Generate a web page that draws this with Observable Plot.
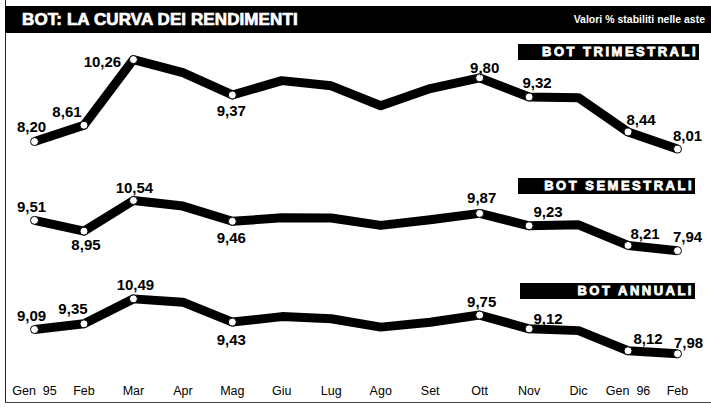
<!DOCTYPE html>
<html>
<head>
<meta charset="utf-8">
<script src="https://cdn.jsdelivr.net/npm/d3@7"></script>
<script src="https://cdn.jsdelivr.net/npm/@observablehq/plot@0.6"></script>
<style>
  html, body { margin: 0; padding: 0; background: #fff; }
  #wrap { position: relative; width: 711px; height: 409px; overflow: hidden; background: #fff;
          font-family: "Liberation Sans", Arial, Helvetica, sans-serif; }
  .panel { position: absolute; left: 0; }
  .panel svg { overflow: visible; }
  .panel svg text { white-space: pre; }
  #header { position: absolute; left: 5px; top: 6px; width: 706px; height: 27px; background: #000; }
  #title { position: absolute; left: 17px; top: 0; line-height: 27px; color: #fff; font-size: 17px;
           font-weight: bold; -webkit-text-stroke: 0.7px #fff; letter-spacing: 0.1px; }
  #subtitle { position: absolute; right: 6px; top: 0; line-height: 27px; color: #fff; font-size: 10.5px;
              font-weight: bold; }
  .tag { position: absolute; height: 16px; background: #000; color: #fff; text-align: right;
         font-size: 13px; font-weight: bold; line-height: 16px; letter-spacing: 2.5px;
         -webkit-text-stroke: 0.8px #fff; padding-right: 1px; box-sizing: border-box; }
  #lborder { position: absolute; left: 5px; top: 0; width: 1px; height: 403px; background: #222; }
  #bborder { position: absolute; left: 5px; top: 402px; width: 706px; height: 1px; background: #444; }
</style>
</head>
<body>
<div id="wrap">
  <div id="lborder"></div>
  <div id="bborder"></div>
  <div id="header"><span id="title">BOT: LA CURVA DEI RENDIMENTI</span><span id="subtitle">Valori % stabiliti nelle aste</span></div>
</div>
<script>
// ---- data ----
const months = ["Gen  95", "Feb", "Mar", "Apr", "Mag", "Giu", "Lug", "Ago", "Set", "Ott", "Nov", "Dic", "Gen  96", "Feb"];
const trimestrali = [8.20, 8.61, 10.26, 9.93, 9.37, 9.73, 9.60, 9.10, 9.53, 9.80, 9.32, 9.30, 8.44, 8.01];
const semestrali  = [9.51, 8.95, 10.54, 10.25, 9.46, 9.64, 9.63, 9.25, 9.54, 9.87, 9.23, 9.28, 8.21, 7.94];
const annuali     = [9.09, 9.35, 10.49, 10.34, 9.43, 9.68, 9.58, 9.20, 9.42, 9.75, 9.12, 9.04, 8.12, 7.98];
const labeled     = [true, true, true, false, true, false, false, false, false, true, true, false, true, true];
const seriesNames = ["BOT TRIMESTRALI", "BOT SEMESTRALI", "BOT ANNUALI"];

// ---- layout (label placement per labeled point: [dx, dy]) ----
const layout = [
  { values: trimestrali, top: 35, height: 125, yRange: [114, 14.5], yDomain: [8, 10.5],
    tag: { left: 518, top: 44, width: 181 },
    offsets: { 0: [-3, -14], 1: [-17, -13], 2: [-31, 3], 4: [-1, 16], 9: [5, -10], 10: [8, -14], 12: [13, -12], 13: [10, -13] } },
  { values: semestrali, top: 160, height: 100, yRange: [89.0, 31.1], yDomain: [8, 11],
    tag: { left: 518, top: 178, width: 177 },
    offsets: { 0: [-3, -13], 1: [2, 14], 2: [1, -12], 4: [-1, 17], 9: [2, -15], 10: [19, -14], 12: [17, -11], 13: [10, -13] } },
  { values: annuali, top: 260, height: 149, yRange: [92.9, 27.2], yDomain: [8, 11],
    tag: { left: 520, top: 283, width: 175 },
    offsets: { 0: [-3, -13], 1: [-11, -15], 2: [2, -14], 4: [-1, 18], 9: [2, -13], 10: [19, -10], 12: [20, -12], 13: [11, -11] } }
];

const fmt = v => d3.format(".2f")(v).replace(".", ",");
const wrap = document.getElementById("wrap");

layout.forEach((p, k) => {
  const data = p.values.map((v, i) => ({ i, v, lab: labeled[i] }));
  const isLast = k === layout.length - 1;
  const labelMarks = data.filter(d => d.lab).map(d => {
    const [dx, dy] = p.offsets[d.i] || [0, -13];
    return Plot.text([d], { x: "i", y: "v", text: d => fmt(d.v), dx, dy,
      fontSize: 15, fontWeight: "bold", fill: "#000" });
  });
  const marks = [
    Plot.line(data, { x: "i", y: "v", stroke: "#000", strokeWidth: 9, strokeLinejoin: "round", strokeLinecap: "butt" }),
    Plot.dot(data.filter(d => d.lab), { x: "i", y: "v", r: 4, fill: "#fff", stroke: "#000", strokeWidth: 1 }),
    ...labelMarks
  ];
  if (isLast) {
    marks.push(Plot.axisX({ ticks: d3.range(months.length), tickFormat: i => months[i], label: null,
      tickSize: 0, tickPadding: 7, fontSize: 12.5, fill: "#000" }));
  }
  const svg = Plot.plot({
    width: 711,
    height: p.height,
    marginLeft: 34,
    marginRight: 34,
    marginTop: 0,
    marginBottom: isLast ? 30 : 0,
    x: { domain: [0, months.length - 1], axis: null, label: null },
    y: { domain: p.yDomain, range: p.yRange, axis: null },
    style: { fontFamily: "'Liberation Sans', Arial, Helvetica, sans-serif", background: "transparent", overflow: "visible" },
    marks
  });
  const div = document.createElement("div");
  div.className = "panel";
  div.style.top = p.top + "px";
  div.appendChild(svg);
  wrap.appendChild(div);

  const tag = document.createElement("div");
  tag.className = "tag";
  tag.style.left = p.tag.left + "px";
  tag.style.top = p.tag.top + "px";
  tag.style.width = p.tag.width + "px";
  tag.textContent = seriesNames[k];
  wrap.appendChild(tag);
});
</script>
</body>
</html>
